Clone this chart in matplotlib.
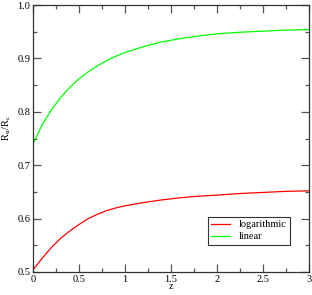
import matplotlib
matplotlib.use("Agg")
import matplotlib.pyplot as plt
from matplotlib.ticker import MultipleLocator

plt.rcParams["font.family"] = ["Liberation Serif", "DejaVu Serif"]
plt.rcParams["mathtext.fontset"] = "stix"

# values
z = [0.0, 0.1, 0.2, 0.3, 0.4, 0.5, 0.6, 0.7, 0.8, 0.9, 1.0,
     1.2, 1.4, 1.6, 1.8, 2.0, 2.25, 2.5, 2.75, 3.0]
linear = [0.740, 0.776, 0.804, 0.827, 0.846, 0.862, 0.875, 0.886, 0.896, 0.904, 0.911,
          0.922, 0.931, 0.937, 0.942, 0.946, 0.949, 0.951, 0.953, 0.954]
logarithmic = [0.504, 0.526, 0.546, 0.563, 0.577, 0.589, 0.600, 0.608, 0.615, 0.620, 0.624,
               0.630, 0.635, 0.639, 0.642, 0.644, 0.647, 0.649, 0.651, 0.652]
xticks = [0, 0.5, 1, 1.5, 2, 2.5, 3]
xtick_labels = ["0", "0.5", "1", "1.5", "2", "2.5", "3"]

fig = plt.figure(figsize=(3.12, 2.95), dpi=100)
ax = fig.add_axes([0.106, 0.078, 0.884, 0.905])

ax.plot(z, logarithmic, color="#ff0000", lw=0.9, label="logarithmic")
ax.plot(z, linear, color="#00ff00", lw=0.9, label="linear")

ax.set_xlim(0, 3)
ax.set_ylim(0.5, 1.0)
ax.set_xticks(xticks)
ax.set_xticklabels(xtick_labels)
ax.xaxis.set_minor_locator(MultipleLocator(0.25))
ax.yaxis.set_major_locator(MultipleLocator(0.1))
ax.yaxis.set_minor_locator(MultipleLocator(0.05))
ax.tick_params(which="both", direction="in", top=True, right=True,
               labelsize=7.5, color="#555555", pad=2)
ax.tick_params(which="major", length=6, width=0.9)
ax.tick_params(which="minor", length=3, width=0.9)
for s in ax.spines.values():
    s.set_color("#333333")
    s.set_linewidth(0.9)

ax.set_xlabel("z", fontsize=7.5, labelpad=-1)
ax.set_ylabel(r"R$_{\rm u}$/R$_{\rm c}$", fontsize=7.5)
ax.yaxis.set_label_coords(-0.072, 0.54)

leg = ax.legend(loc="lower right", bbox_to_anchor=(0.931, 0.101), borderaxespad=0,
                fontsize=7.5, fancybox=False, edgecolor="#333333", framealpha=1,
                handlelength=1.8, borderpad=0.35, labelspacing=0.25)
leg.get_frame().set_linewidth(0.8)

fig.savefig("out.png", dpi=100)
